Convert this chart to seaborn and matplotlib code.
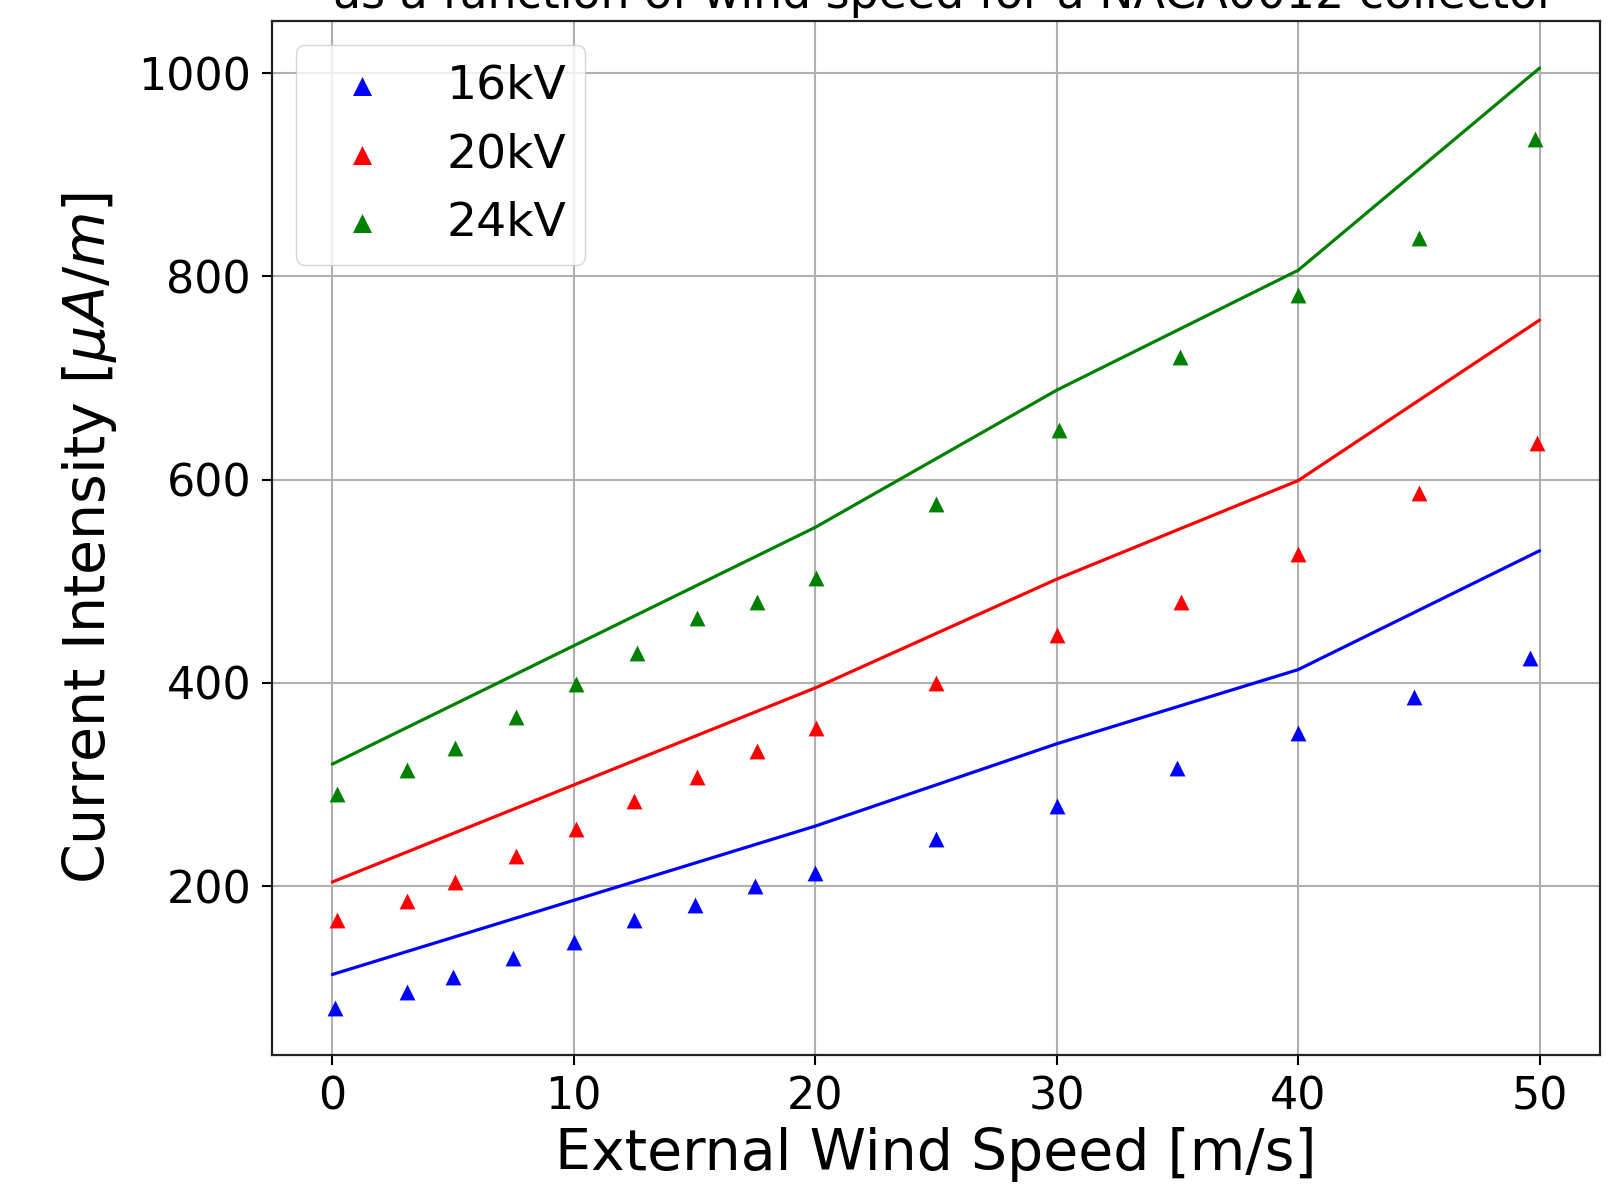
import matplotlib
matplotlib.use("Agg")
import matplotlib.pyplot as plt
import seaborn as sns
import pandas as pd

# Measured points (triangles)
speed_16 = [0.1, 3.1, 5.0, 7.5, 10.0, 12.5, 15.0, 17.5, 20.0, 25.0, 30.0, 35.0, 40.0, 44.8, 49.6]
current_16 = [80, 96, 111, 129, 145, 167, 181, 200, 213, 246, 279, 316, 351, 386, 424]

speed_20 = [0.2, 3.1, 5.1, 7.6, 10.1, 12.5, 15.1, 17.6, 20.05, 25.0, 30.0, 35.15, 40.0, 45.0, 49.9]
current_20 = [167, 185, 204, 230, 256, 284, 307, 333, 356, 400, 447, 480, 527, 587, 636]

speed_24 = [0.2, 3.1, 5.1, 7.6, 10.1, 12.6, 15.1, 17.6, 20.05, 25.0, 30.1, 35.1, 40.0, 45.0, 49.8]
current_24 = [291, 314, 336, 366, 399, 429, 464, 480, 503, 576, 649, 721, 782, 838, 935]

# Model curves (lines)
model_speed = [0, 20, 30, 40, 50]
model_16 = [113, 259, 340, 413, 530]
model_20 = [204, 395, 502, 599, 757]
model_24 = [320, 553, 688, 806, 1005]

LABELS = ['16kV', '20kV', '24kV']
COLORS = ['blue', 'red', 'green']

TITLE_LINE = 'as a function of wind speed for a NACA0012 collector'


def main():
    sns.set_style('ticks')
    plt.rcParams['font.family'] = ['DejaVu Sans']
    for key in ['text.color', 'axes.labelcolor', 'xtick.color', 'ytick.color']:
        plt.rcParams[key] = 'black'

    fig = plt.figure(figsize=(16.15, 11.89), dpi=100)
    ax = fig.add_axes([0.1684, 0.1127, 0.8223, 0.8696])

    points = [(speed_16, current_16), (speed_20, current_20), (speed_24, current_24)]
    models = [model_16, model_20, model_24]

    for (xs, ys), model, label, color in zip(points, models, LABELS, COLORS):
        df_line = pd.DataFrame({'speed': model_speed, 'current': model})
        sns.lineplot(data=df_line, x='speed', y='current', color=color,
                     linewidth=2.3, ax=ax, legend=False)
        df_pts = pd.DataFrame({'speed': xs, 'current': ys})
        sns.scatterplot(data=df_pts, x='speed', y='current', color=color,
                        marker='^', s=130, linewidth=0, label=label, ax=ax)

    ax.grid(True, color='#b0b0b0', linewidth=1.5)
    ax.set_axisbelow(True)
    for spine in ax.spines.values():
        spine.set_visible(True)
        spine.set_linewidth(1.6)
        spine.set_color('#222222')

    ax.set_yticks([200, 400, 600, 800, 1000])
    ax.set_xticks([0, 10, 20, 30, 40, 50])
    ax.tick_params(labelsize=32, length=7, width=1.5, pad=8)

    ax.set_xlabel('External Wind Speed [m/s]', fontsize=41, labelpad=6)
    ax.set_ylabel(r'Current Intensity [$\mu A/m$]', fontsize=41, labelpad=14)

    ax.legend(loc='upper left', fontsize=34, markerscale=1.2)

    # title is cropped by the top edge of the figure
    fig.text(0.585, 1 - 8 / 1189, TITLE_LINE, fontsize=33, ha='center', va='baseline')

    fig.savefig('out.png', dpi=100)
    plt.close(fig)


if __name__ == "__main__":
    main()
